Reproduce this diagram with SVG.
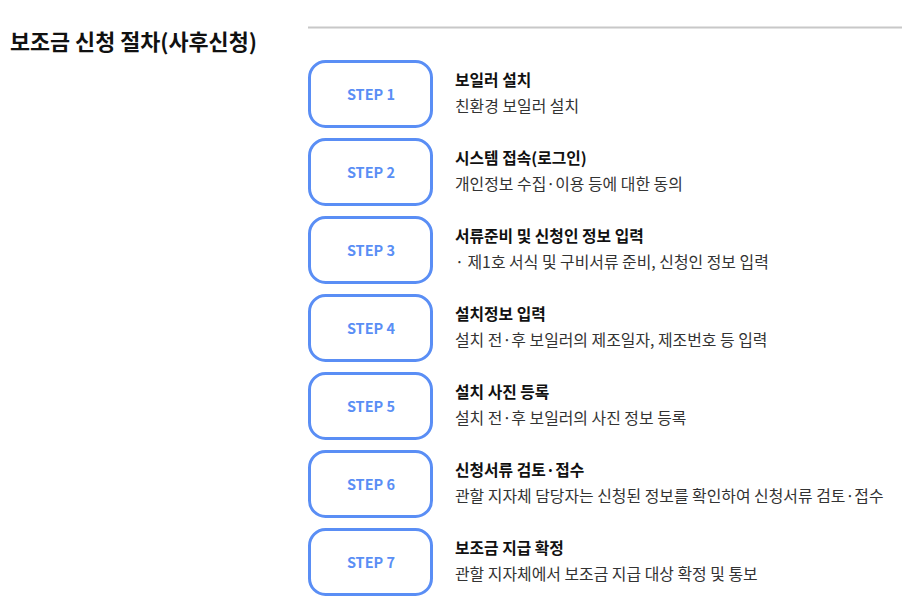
<svg xmlns="http://www.w3.org/2000/svg" width="902" height="614" viewBox="0 0 902 614">
<style>
text{font-family:"Noto Sans CJK KR","Noto Sans",sans-serif}
.box{fill:#fff;stroke:#5a8ef5;stroke-width:3}
.lbl{font-size:14.5px;font-weight:700;fill:#5a8ef5;text-anchor:middle}
.t{font-size:15.8px;font-weight:700;fill:#111}
.d{font-size:15.9px;fill:#333}
</style>
<rect width="902" height="614" fill="#fff"/>
<line x1="308" y1="27.5" x2="902" y2="27.5" stroke="#c8c8c8" stroke-width="2"/>
<text x="10" y="49.5" style="font-size:21.8px;font-weight:700;fill:#111">보조금 신청 절차(사후신청)</text>
<g id="step1"><rect class="box" x="309.5" y="61.5" width="122" height="65" rx="16"/><text class="lbl" x="371" y="100">STEP 1</text><text class="t" x="455" y="86">보일러 설치</text><text class="d" x="455" y="112">친환경 보일러 설치</text></g>
<g id="step2"><rect class="box" x="309.5" y="139.5" width="122" height="65" rx="16"/><text class="lbl" x="371" y="178">STEP 2</text><text class="t" x="455" y="164">시스템 접속(로그인)</text><text class="d" x="455" y="190">개인정보 수집·이용 등에 대한 동의</text></g>
<g id="step3"><rect class="box" x="309.5" y="217.5" width="122" height="65" rx="16"/><text class="lbl" x="371" y="256">STEP 3</text><text class="t" x="455" y="242">서류준비 및 신청인 정보 입력</text><text class="d" x="455" y="268">· 제1호 서식 및 구비서류 준비, 신청인 정보 입력</text></g>
<g id="step4"><rect class="box" x="309.5" y="295.5" width="122" height="65" rx="16"/><text class="lbl" x="371" y="334">STEP 4</text><text class="t" x="455" y="320">설치정보 입력</text><text class="d" x="455" y="346">설치 전·후 보일러의 제조일자, 제조번호 등 입력</text></g>
<g id="step5"><rect class="box" x="309.5" y="373.5" width="122" height="65" rx="16"/><text class="lbl" x="371" y="412">STEP 5</text><text class="t" x="455" y="398">설치 사진 등록</text><text class="d" x="455" y="424">설치 전·후 보일러의 사진 정보 등록</text></g>
<g id="step6"><rect class="box" x="309.5" y="451.5" width="122" height="65" rx="16"/><text class="lbl" x="371" y="490">STEP 6</text><text class="t" x="455" y="476">신청서류 검토·접수</text><text class="d" x="455" y="502">관할 지자체 담당자는 신청된 정보를 확인하여 신청서류 검토·접수</text></g>
<g id="step7"><rect class="box" x="309.5" y="529.5" width="122" height="65" rx="16"/><text class="lbl" x="371" y="568">STEP 7</text><text class="t" x="455" y="554">보조금 지급 확정</text><text class="d" x="455" y="580">관할 지자체에서 보조금 지급 대상 확정 및 통보</text></g>
<g id="connectors"/>
</svg>
